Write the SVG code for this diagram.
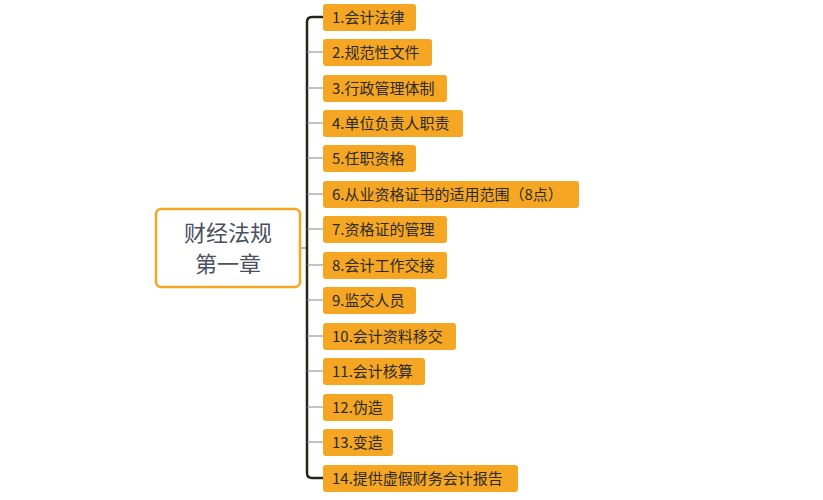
<svg xmlns="http://www.w3.org/2000/svg" width="823" height="500" viewBox="0 0 823 500">
<style>
.b{fill:#f5a623;}
.t{font-family:"Noto Sans CJK SC",sans-serif;font-size:15px;fill:#2b2b2b;}
.c{stroke:#888;stroke-width:1.2;fill:none;}
</style>
<rect width="823" height="500" fill="#fff"/>
<g id="connectors">
<path d="M301,248 H307" class="c"/>
<path d="M323,17 H312 Q307,17 307,22 V473 Q307,478 312,478 H323" fill="none" stroke="#2a2418" stroke-width="2.5"/>
<path class="c" d="M307,52H323M307,88H323M307,123H323M307,158H323M307,194H323M307,229H323M307,265H323M307,300H323M307,336H323M307,371H323M307,407H323M307,442H323"/>
</g>
<g id="root"><rect x="156" y="209" width="144" height="78" rx="5" fill="#fff" stroke="#f5a623" stroke-width="2.5"/>
<text x="228" y="241" text-anchor="middle" font-family="Noto Sans CJK SC,sans-serif" font-size="22" fill="#4a5060">财经法规</text>
<text x="228" y="272" text-anchor="middle" font-family="Noto Sans CJK SC,sans-serif" font-size="22" fill="#4a5060">第一章</text></g>
<g id="n1"><rect class="b" x="323" y="4" width="93" height="27" rx="3"/><text class="t" x="332" y="23">1.会计法律</text></g>
<g id="n2"><rect class="b" x="323" y="39" width="109" height="27" rx="3"/><text class="t" x="332" y="58">2.规范性文件</text></g>
<g id="n3"><rect class="b" x="323" y="75" width="124" height="27" rx="3"/><text class="t" x="332" y="94">3.行政管理体制</text></g>
<g id="n4"><rect class="b" x="323" y="110" width="140" height="27" rx="3"/><text class="t" x="332" y="129">4.单位负责人职责</text></g>
<g id="n5"><rect class="b" x="323" y="145" width="93" height="27" rx="3"/><text class="t" x="332" y="164">5.任职资格</text></g>
<g id="n6"><rect class="b" x="323" y="181" width="256" height="27" rx="3"/><text class="t" x="332" y="200">6.从业资格证书的适用范围（8点）</text></g>
<g id="n7"><rect class="b" x="323" y="216" width="124" height="27" rx="3"/><text class="t" x="332" y="235">7.资格证的管理</text></g>
<g id="n8"><rect class="b" x="323" y="252" width="124" height="27" rx="3"/><text class="t" x="332" y="271">8.会计工作交接</text></g>
<g id="n9"><rect class="b" x="323" y="287" width="93" height="27" rx="3"/><text class="t" x="332" y="306">9.监交人员</text></g>
<g id="n10"><rect class="b" x="323" y="323" width="133" height="27" rx="3"/><text class="t" x="332" y="342">10.会计资料移交</text></g>
<g id="n11"><rect class="b" x="323" y="358" width="102" height="27" rx="3"/><text class="t" x="332" y="377">11.会计核算</text></g>
<g id="n12"><rect class="b" x="323" y="394" width="70" height="27" rx="3"/><text class="t" x="332" y="413">12.伪造</text></g>
<g id="n13"><rect class="b" x="323" y="429" width="70" height="27" rx="3"/><text class="t" x="332" y="448">13.变造</text></g>
<g id="n14"><rect class="b" x="323" y="465" width="195" height="27" rx="3"/><text class="t" x="332" y="484">14.提供虚假财务会计报告</text></g>
</svg>
